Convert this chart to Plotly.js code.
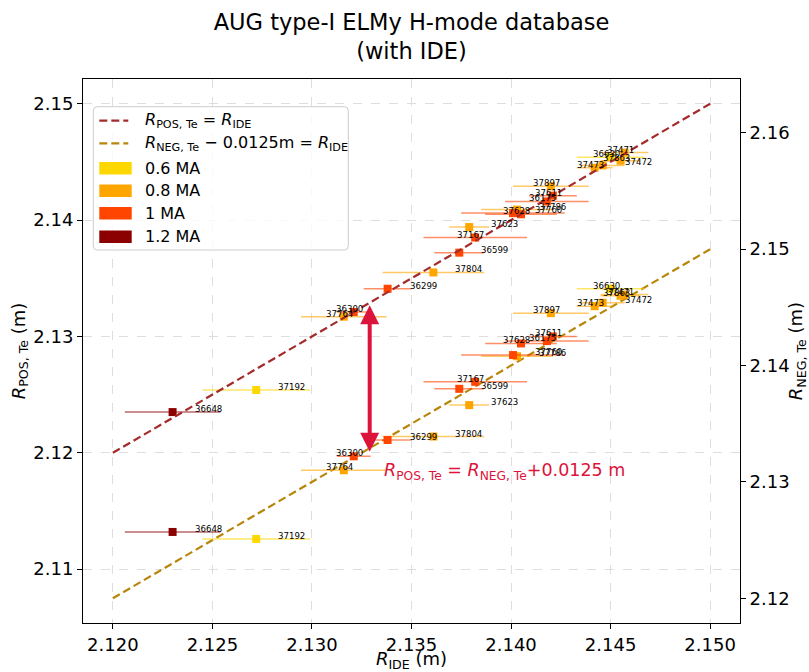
<!DOCTYPE html>
<html><head><meta charset="utf-8">
<script src="https://cdn.plot.ly/plotly-3.0.1.min.js"></script>
<style>html,body{margin:0;padding:0;background:#fff}#chart{width:809px;height:672px}</style>
</head><body><div id="chart"></div>
<script>
// ---- data ----
const shots     = ['36648','37192','37764','36300','36299','37804','36599','37623','37167','37760','37786','37628','36175','37897','37611','37473','37472','36630','37863','37471'];
const currentMA = [1.2, 0.6, 0.8, 1, 1, 0.8, 1, 0.8, 1, 1, 0.8, 1, 1, 0.8, 1, 0.8, 0.8, 0.6, 0.8, 0.8];
const rIDE      = [2.1230,2.1272,2.1316,2.1321,2.1338,2.1361,2.1374,2.1379,2.1382,2.1401,2.1403,2.1405,2.1418,2.1420,2.1421,2.1442,2.1446,2.1450,2.1455,2.1457];
const rIDEerr   = [0.0024,0.0027,0.00215,0.00085,0.0012,0.00255,0.00125,0.0010,0.0026,0.0026,0.0018,0.0018,0.0021,0.0019,0.0012,0.0009,0.0011,0.0017,0.0010,0.0012];
const rPOS      = [2.1235,2.1254,2.1317,2.1321,2.1341,2.1355,2.1372,2.1394,2.1385,2.1406,2.1409,2.1405,2.1416,2.1429,2.1421,2.1445,2.1447,2.1454,2.1451,2.1458];
const rNEG      = [2.1257,2.1251,2.1310,2.1322,2.1336,2.1339,2.1380,2.1366,2.1386,2.1409,2.1408,2.1419,2.1421,2.1445,2.1425,2.1451,2.1454,2.1466,2.1460,2.1461];
const currentLevels = [0.6, 0.8, 1, 1.2];
const currentNames  = ['0.6 MA', '0.8 MA', '1 MA', '1.2 MA'];
const shiftNEG = 0.0125;
const ideLine  = [2.120, 2.150];
const xTicks   = [2.120, 2.125, 2.130, 2.135, 2.140, 2.145, 2.150];
const yTicks   = [2.11, 2.12, 2.13, 2.14, 2.15];
const y2Ticks  = [2.12, 2.13, 2.14, 2.15, 2.16];

// ---- styling / layout config ----
const colors    = {0.6:'#FFD700', 0.8:'#FFA500', 1:'#FF4500', 1.2:'#8B0000'};
const errColors = {0.6:'rgba(255,215,0,0.6)', 0.8:'rgba(255,165,0,0.6)', 1:'rgba(255,69,0,0.6)', 1.2:'rgba(139,0,0,0.6)'};
const leftLabelShots = ['37764','36300','37167','37897','36175','37611','37628','37473','36630','37863','37471'];
const FONT = 'DejaVu Sans, Verdana, sans-serif';

const traces = [];
function addSet(yvals, axis) {
  currentLevels.forEach(lv => {
    const idx = currentMA.map((c,i)=>c===lv?i:-1).filter(i=>i>=0);
    if (!idx.length) return;
    traces.push({
      type:'scatter', mode:'markers', yaxis: axis, showlegend:false,
      x: idx.map(i=>rIDE[i]), y: idx.map(i=>yvals[i]),
      error_x: {type:'data', array: idx.map(i=>rIDEerr[i]), color: errColors[lv], thickness:1.5, width:0},
      marker: {symbol:'square', size:8, color: colors[lv], line:{width:0}},
      hovertext: idx.map(i=>shots[i]), hoverinfo:'text+x+y'
    });
  });
}
addSet(rPOS, 'y');
addSet(rNEG, 'y2');
traces.push({type:'scatter', mode:'lines', x: ideLine, y: ideLine, yaxis:'y', showlegend:false,
  line:{color:'#A52A2A', width:2.2, dash:'8px,4px'}, hoverinfo:'skip'});
traces.push({type:'scatter', mode:'lines', x: ideLine, y: ideLine.map(v=>v-shiftNEG), yaxis:'y', showlegend:false,
  line:{color:'#B8860B', width:2.2, dash:'8px,4px'}, hoverinfo:'skip'});

const annotations = [];
function addLabels(yvals, yref) {
  shots.forEach((s,i) => {
    const left = leftLabelShots.includes(s);
    annotations.push({x: rIDE[i] + (left ? -0.001 : 0.001), y: yvals[i], xref:'x', yref: yref,
      text: s, showarrow:false, xanchor:'left', yanchor:'middle', yshift:3,
      font:{family:FONT, size:8.6, color:'#000'}});
  });
}
addLabels(rPOS, 'y');
addLabels(rNEG, 'y2');

// double-headed arrow
annotations.push({x:2.1329, y:2.1201, ax:2.1329, ay:2.1328, xref:'x', yref:'y', axref:'x', ayref:'y',
  text:'', showarrow:true, arrowside:'end+start', arrowhead:2, startarrowhead:2,
  arrowsize:0.95, startarrowsize:0.95, arrowwidth:4, arrowcolor:'#DC143C'});
annotations.push({x:2.1335, y:2.1184, xref:'x', yref:'y', showarrow:false, xanchor:'left', yanchor:'middle',
  text:'<i>R</i><sub>POS, Te</sub> = <i>R</i><sub>NEG, Te</sub>+0.0125 m',
  font:{family:FONT, size:17.5, color:'#DC143C'}});

// custom legend (matplotlib style)
const PX0=83, PW=657, PY1=623, PH=544;
const px = v => (v-PX0)/PW, py = v => (PY1-v)/PH;
const shapes = [];
{
  const x0=px(93.3), x1=px(348.3), yT=py(106.7), yB=py(250), dx=4/PW, dy=4/PH;
  shapes.push({type:'path', xref:'paper', yref:'paper', layer:'above',
    path:`M${x0+dx},${yT} L${x1-dx},${yT} Q${x1},${yT} ${x1},${yT-dy} L${x1},${yB+dy} Q${x1},${yB} ${x1-dx},${yB} L${x0+dx},${yB} Q${x0},${yB} ${x0},${yB+dy} L${x0},${yT-dy} Q${x0},${yT} ${x0+dx},${yT} Z`,
    fillcolor:'rgba(255,255,255,0.8)', line:{color:'#cccccc', width:1}});
}
const legRows = [120.7, 143.3, 168.3, 190.7, 213.3, 236.7];
const legTexts = ['<i>R</i><sub>POS, Te</sub> = <i>R</i><sub>IDE</sub>',
  '<i>R</i><sub>NEG, Te</sub> − 0.0125m = <i>R</i><sub>IDE</sub>'].concat(currentNames);
shapes.push({type:'line', xref:'paper', yref:'paper', layer:'above', x0:px(99.3), x1:px(128.3), y0:py(legRows[0]), y1:py(legRows[0]),
  line:{color:'#A52A2A', width:2.2, dash:'8px,4px'}});
shapes.push({type:'line', xref:'paper', yref:'paper', layer:'above', x0:px(99.3), x1:px(128.3), y0:py(legRows[1]), y1:py(legRows[1]),
  line:{color:'#B8860B', width:2.2, dash:'8px,4px'}});
currentLevels.forEach((lv,k) => {
  const r = legRows[k+2];
  shapes.push({type:'rect', xref:'paper', yref:'paper', layer:'above', x0:px(99.3), x1:px(131.7), y0:py(r+6.3), y1:py(r-6.3),
    fillcolor: colors[lv], line:{width:0}});
});
legTexts.forEach((t,k) => {
  annotations.push({xref:'paper', yref:'paper', x:px(143.3), y:py(legRows[k]), text:t, showarrow:false,
    xanchor:'left', yanchor:'middle', font:{family:FONT, size:16, color:'#000'}});
});

const axisCommon = {ticks:'outside', ticklen:5, tickwidth:1, tickcolor:'#000', showline:true, linecolor:'#000', linewidth:1,
  zeroline:false, tickfont:{family:FONT, size:18, color:'#000'}};

const layout = {
  width:809, height:672, paper_bgcolor:'#fff', plot_bgcolor:'#fff',
  margin:{l:83, r:69, t:79, b:49},
  font:{family:FONT, color:'#000'},
  showlegend:false,
  title:{text:'AUG type-I ELMy H-mode database<br>(with IDE)', xref:'paper', x:0.5, xanchor:'center',
    y:(672-30)/672, yanchor:'middle', font:{family:FONT, size:22.5, color:'#000'}},
  xaxis: Object.assign({}, axisCommon, {range:[2.1185, 2.1515], tickvals:xTicks, ticktext:xTicks.map(v=>v.toFixed(3)),
    mirror:true, showgrid:true, gridcolor:'#d6d6d6', griddash:'dash', gridwidth:0.8,
    title:{text:'<i>R</i><sub>IDE</sub> (m)', font:{family:FONT, size:18, color:'#000'}, standoff:2}}),
  yaxis: Object.assign({}, axisCommon, {range:[2.105375, 2.152125], tickvals:yTicks, ticktext:yTicks.map(v=>v.toFixed(2)),
    showgrid:true, gridcolor:'#d6d6d6', griddash:'dash', gridwidth:0.8,
    title:{text:'<i>R</i><sub>POS, Te</sub> (m)', font:{family:FONT, size:18, color:'#000'}, standoff:3}}),
  yaxis2: Object.assign({}, axisCommon, {overlaying:'y', side:'right', range:[2.117875, 2.164625], tickvals:y2Ticks,
    ticktext:y2Ticks.map(v=>v.toFixed(2)), showgrid:false,
    title:{text:'<i>R</i><sub>NEG, Te</sub> (m)', font:{family:FONT, size:18, color:'#000'}, standoff:8}}),
  shapes: shapes, annotations: annotations
};
Plotly.newPlot('chart', traces, layout, {displayModeBar:false, staticPlot:true});
</script></body></html>
